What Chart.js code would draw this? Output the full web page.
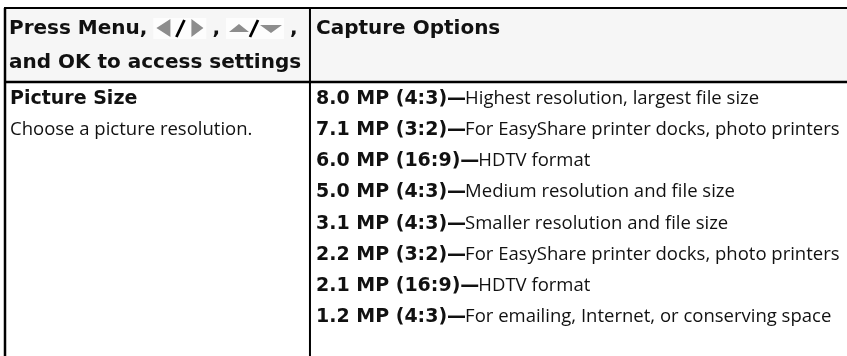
<!DOCTYPE html>
<html>
<head>
<meta charset="utf-8">
<script src="https://cdn.jsdelivr.net/npm/chart.js@4.4.1/dist/chart.umd.min.js"></script>
<style>
    html, body { margin: 0; padding: 0; background: #fff; }
    #wrap { width: 847px; height: 356px; position: relative; }
</style>
</head>
<body>
<div id="wrap"><canvas id="options-table"></canvas></div>
<script>
// Table content
const headerLeftLine1 = ['Press Menu,', '{lr}', ',', '{ud}', ','];
const headerLeftLine2 = 'and OK to access settings';
const headerRight = 'Capture Options';
const settingName = 'Picture Size';
const settingHelp = 'Choose a picture resolution.';
const sizes = [
    '8.0 MP (4:3)', '7.1 MP (3:2)', '6.0 MP (16:9)', '5.0 MP (4:3)',
    '3.1 MP (4:3)', '2.2 MP (3:2)', '2.1 MP (16:9)', '1.2 MP (4:3)'
];
const descriptions = [
    'Highest resolution, largest file size',
    'For EasyShare printer docks, photo printers',
    'HDTV format',
    'Medium resolution and file size',
    'Smaller resolution and file size',
    'For EasyShare printer docks, photo printers',
    'HDTV format',
    'For emailing, Internet, or conserving space'
];

// Layout / style
const BOLD = 'bold 19px "DejaVu Sans", sans-serif';
const HEAD = 'bold 20px "DejaVu Sans", sans-serif';
const REG = '18.5px "Open Sans", "Noto Sans", sans-serif';
const COL_SPLIT = 0.3622;  // fraction of the x scale where column 2 starts
const TABLE_TOP = 8;
const PAD = 4;
const BASE_SHIFT = 6.5;    // row centre -> text baseline

function drawIcon(ctx, kind, x, cy) {
    const w = kind === 'lr' ? 53 : 58;
    ctx.fillStyle = '#fdfdfd';
    ctx.fillRect(x, cy - 10, w, 21);
    ctx.fillStyle = '#8d8d8d';
    ctx.beginPath();
    if (kind === 'lr') {
        ctx.moveTo(x + 3, cy); ctx.lineTo(x + 17, cy - 9); ctx.lineTo(x + 17, cy + 9); ctx.closePath();
        ctx.moveTo(x + 50, cy); ctx.lineTo(x + 38, cy - 9); ctx.lineTo(x + 38, cy + 9); ctx.closePath();
    } else {
        ctx.moveTo(x + 3, cy + 4); ctx.lineTo(x + 13, cy - 4); ctx.lineTo(x + 23, cy + 4); ctx.closePath();
        ctx.moveTo(x + 34, cy - 3); ctx.lineTo(x + 56, cy - 3); ctx.lineTo(x + 45, cy + 5); ctx.closePath();
    }
    ctx.fill();
    ctx.strokeStyle = '#000';
    ctx.lineWidth = 2.8;
    ctx.beginPath();
    const sx = kind === 'lr' ? x + 27 : x + 28;
    ctx.moveTo(sx + 4, cy - 8);
    ctx.lineTo(sx - 4, cy + 9);
    ctx.stroke();
    return w;
}

const tablePlugin = {
    id: 'tablePlugin',
    afterDraw(chart) {
        const { ctx, chartArea, scales: { x, y } } = chart;
        const left = x.getPixelForValue(0);
        const right = chart.width;
        const split = x.getPixelForValue(COL_SPLIT);
        const headBottom = chartArea.top;

        ctx.save();
        // header background
        ctx.fillStyle = '#f6f6f6';
        ctx.fillRect(left, TABLE_TOP, right - left, headBottom - TABLE_TOP);

        // header text
        ctx.fillStyle = '#111';
        ctx.font = HEAD;
        ctx.textBaseline = 'alphabetic';
        ctx.textAlign = 'left';
        let cx = left + PAD;
        const line1 = 34, line2 = 68;
        headerLeftLine1.forEach(tok => {
            if (tok === '{lr}' || tok === '{ud}') {
                cx += drawIcon(ctx, tok.slice(1, 3), cx, line1 - 6) + 6;
                ctx.fillStyle = '#111';
                ctx.font = HEAD;
            } else {
                ctx.fillText(tok, cx, line1);
                cx += ctx.measureText(tok).width + 6;
            }
        });
        ctx.fillText(headerLeftLine2, left + PAD, line2);
        ctx.fillText(headerRight, split + PAD + 2, line1);

        // body rows
        ctx.font = BOLD;
        ctx.fillText(settingName, left + PAD + 1, y.getPixelForValue(0) + BASE_SHIFT);
        ctx.font = REG;
        ctx.fillText(settingHelp, left + PAD + 1, y.getPixelForValue(1) + BASE_SHIFT);

        sizes.forEach((label, i) => {
            const by = y.getPixelForValue(i) + BASE_SHIFT;
            ctx.font = BOLD;
            const lead = label + '\u2014';
            ctx.fillText(lead, split + PAD + 2, by);
            const w = ctx.measureText(lead).width;
            ctx.font = REG;
            ctx.fillText(descriptions[i], split + PAD + 1 + w, by);
        });

        // borders
        ctx.strokeStyle = '#000';
        ctx.lineWidth = 2;
        ctx.beginPath();
        ctx.moveTo(left - 1, TABLE_TOP); ctx.lineTo(right, TABLE_TOP);
        ctx.stroke();
        ctx.lineWidth = 2.5;
        ctx.beginPath();
        ctx.moveTo(left - 1, headBottom); ctx.lineTo(right, headBottom);
        ctx.stroke();
        ctx.beginPath();
        ctx.moveTo(left, TABLE_TOP); ctx.lineTo(left, chart.height);
        ctx.stroke();
        ctx.lineWidth = 2;
        ctx.beginPath();
        ctx.moveTo(split, TABLE_TOP); ctx.lineTo(split, chart.height);
        ctx.stroke();
        ctx.restore();
    }
};

new Chart(document.getElementById('options-table'), {
    type: 'bar',
    data: { labels: sizes, datasets: [] },
    options: {
        responsive: true,
        maintainAspectRatio: false,
        animation: false,
        indexAxis: 'y',
        layout: { padding: { top: 82, bottom: 25, left: 5, right: 0 } },
        plugins: { legend: { display: false }, tooltip: { enabled: false } },
        scales: {
            x: { type: 'linear', min: 0, max: 1, display: false },
            y: { type: 'category', labels: sizes, offset: true, display: false }
        }
    },
    plugins: [tablePlugin]
});
</script>
</body>
</html>
